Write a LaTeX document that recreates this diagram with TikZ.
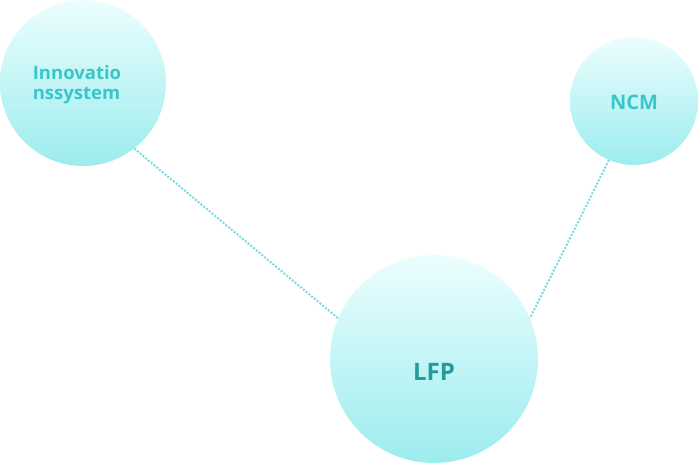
\documentclass[tikz,border=0pt]{standalone}
\usepackage{fontspec}
\newfontfamily\labelfont{Open Sans}
\usepackage{tikz}
\usetikzlibrary{positioning}

\definecolor{bubbletop}{RGB}{236,254,254}
\definecolor{bubblebot}{RGB}{156,236,238}
\definecolor{labellight}{RGB}{58,198,200}
\definecolor{labeldark}{RGB}{36,156,158}
\definecolor{linkdots}{RGB}{118,218,226}

\tikzset{
    bubble/.style={circle,inner sep=0pt,top color=bubbletop,bottom color=bubblebot,draw=none},
    link/.style={linkdots,line width=2pt,dash pattern=on 2pt off 1.6pt},
}

\begin{document}
\begin{tikzpicture}[x=1pt,y=-1pt]
    \useasboundingbox (0,0) rectangle (698,463);

    \node[bubble,minimum size=166pt] (inno) at (83,83) {};
    \node[bubble,minimum size=128pt] (ncm) at (634,101) {};
    \node[bubble,minimum size=208pt] (lfp) at (434,359) {};

    \draw[link] (inno.-52) -- (lfp.157);
    \draw[link] (ncm.-113) -- (lfp.23);

    \node[align=left,text=labellight,font=\labelfont\bfseries\fontsize{18.5}{20}\selectfont] (innotext) at (77,85) {Innovatio\\nssystem};
    \node[text=labellight,font=\labelfont\bfseries\fontsize{20}{22}\selectfont] (ncmtext) at (634,102) {NCM};
    \node[text=labeldark,font=\labelfont\bfseries\fontsize{24}{26}\selectfont] (lfptext) at (434,372) {LFP};
\end{tikzpicture}
\end{document}
